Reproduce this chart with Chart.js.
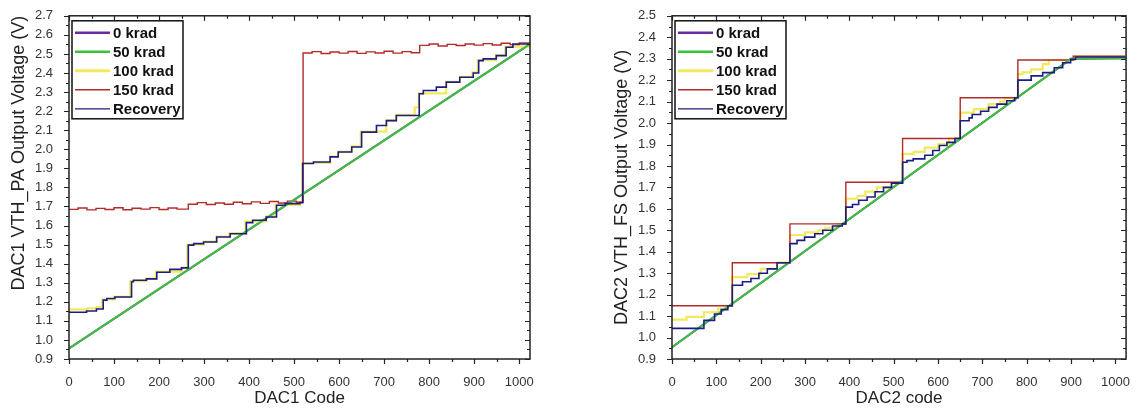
<!DOCTYPE html>
<html>
<head>
<meta charset="utf-8">
<script src="https://cdn.jsdelivr.net/npm/chart.js@4.4.1/dist/chart.umd.min.js"></script>
<style>
    html, body { margin: 0; padding: 0; background: #fff; }
    #wrap { position: relative; width: 1138px; height: 412px; overflow: hidden; }
    canvas { position: absolute; top: 0; }
    #chartPA { left: 0; }
    #chartFS { left: 603px; }
</style>
</head>
<body>
<div id="wrap">
    <canvas id="chartPA" width="560" height="412"></canvas>
    <canvas id="chartFS" width="535" height="412"></canvas>
</div>
<script>
// ========== 数据 ==========

const seriesNames = ['0 krad', '50 krad', '100 krad', '150 krad', 'Recovery'];

// DAC1 VTH_PA
const pa0kX = [0, 1023];
const pa0kY = [0.955, 2.55];
const pa50kX = [0, 1023];
const pa50kY = [0.955, 2.55];
const pa100kX = [0, 40, 62, 74, 100, 136, 172, 193, 250, 263, 299, 328, 356, 392, 438, 459, 513, 519, 580, 598, 628, 648, 705, 727, 768, 777, 838, 868, 896, 908, 949, 969, 1023];
const pa100kY = [1.16, 1.165, 1.172, 1.212, 1.226, 1.308, 1.322, 1.358, 1.38, 1.50, 1.516, 1.542, 1.56, 1.62, 1.648, 1.708, 1.722, 1.928, 1.962, 1.988, 2.015, 2.093, 2.152, 2.18, 2.22, 2.293, 2.354, 2.38, 2.403, 2.468, 2.494, 2.538, 2.555];
const pa150kX = [0, 20, 40, 60, 80, 100, 120, 140, 160, 180, 200, 220, 240, 265, 285, 305, 325, 345, 365, 385, 405, 425, 445, 465, 485, 505, 520, 540, 560, 580, 600, 620, 640, 660, 680, 700, 720, 740, 760, 779, 800, 820, 840, 860, 880, 900, 920, 940, 960, 980, 1000, 1023];
const pa150kY = [1.685, 1.692, 1.682, 1.690, 1.684, 1.693, 1.683, 1.691, 1.686, 1.694, 1.684, 1.692, 1.686, 1.712, 1.720, 1.710, 1.718, 1.712, 1.722, 1.714, 1.724, 1.716, 1.726, 1.718, 1.728, 1.722, 2.505, 2.512, 2.502, 2.510, 2.504, 2.513, 2.503, 2.511, 2.505, 2.514, 2.504, 2.512, 2.506, 2.545, 2.552, 2.542, 2.550, 2.544, 2.552, 2.546, 2.554, 2.547, 2.556, 2.549, 2.558, 2.555];
const paRecX = [0, 39, 61, 76, 84, 102, 139, 143, 172, 195, 224, 250, 265, 277, 299, 328, 358, 394, 408, 438, 461, 480, 513, 519, 543, 580, 598, 628, 650, 683, 705, 727, 778, 787, 816, 838, 868, 898, 910, 920, 949, 971, 986, 1023];
const paRecY = [1.145, 1.152, 1.162, 1.209, 1.217, 1.225, 1.305, 1.313, 1.32, 1.355, 1.37, 1.378, 1.497, 1.505, 1.514, 1.54, 1.557, 1.615, 1.628, 1.645, 1.706, 1.715, 1.72, 1.925, 1.933, 1.96, 1.986, 2.012, 2.09, 2.125, 2.15, 2.177, 2.291, 2.308, 2.326, 2.352, 2.378, 2.40, 2.465, 2.474, 2.491, 2.535, 2.552, 2.552];

// DAC2 VTH_FS
const fs0kX = [0, 900, 1023];
const fs0kY = [0.955, 2.30, 2.302];
const fs50kX = [0, 900, 1023];
const fs50kY = [0.955, 2.30, 2.302];
const fs100kX = [0, 33, 72, 104, 120, 136, 170, 200, 237, 266, 300, 330, 346, 374, 392, 418, 436, 462, 495, 520, 545, 570, 600, 625, 650, 681, 714, 740, 751, 780, 790, 810, 836, 850, 905, 1023];
const fs100kY = [1.084, 1.096, 1.118, 1.135, 1.148, 1.282, 1.296, 1.32, 1.349, 1.478, 1.49, 1.50, 1.512, 1.530, 1.647, 1.66, 1.68, 1.70, 1.724, 1.856, 1.866, 1.885, 1.902, 1.928, 2.049, 2.065, 2.088, 2.10, 2.118, 2.228, 2.236, 2.25, 2.275, 2.294, 2.31, 2.31];
const fs150kX = [0, 136, 266, 392, 520, 650, 780, 905, 1023];
const fs150kY = [1.148, 1.349, 1.530, 1.724, 1.928, 2.118, 2.294, 2.312, 2.312];
const fsRecX = [0, 72, 96, 111, 126, 136, 159, 178, 196, 215, 237, 266, 282, 299, 322, 340, 362, 384, 392, 407, 421, 440, 458, 477, 495, 520, 530, 544, 570, 588, 603, 620, 638, 650, 670, 677, 696, 714, 733, 755, 773, 780, 810, 836, 862, 881, 899, 910, 1023];
const fsRecY = [1.043, 1.08, 1.11, 1.13, 1.148, 1.244, 1.26, 1.275, 1.30, 1.32, 1.349, 1.438, 1.453, 1.468, 1.484, 1.50, 1.52, 1.530, 1.608, 1.62, 1.64, 1.655, 1.68, 1.70, 1.72, 1.817, 1.825, 1.833, 1.85, 1.872, 1.895, 1.91, 1.928, 2.011, 2.024, 2.04, 2.055, 2.073, 2.088, 2.104, 2.118, 2.20, 2.22, 2.235, 2.258, 2.281, 2.297, 2.308, 2.308];

// ========== 样式 ==========

const COLORS = {
    k0: '#6a2c9c',
    k50: '#3cc13c',
    k100: '#f2ea5c',
    k150: '#b22a2a',
    rec: '#1c1c86'
};

const FONT = 'Arial, "Liberation Sans", sans-serif';

function zip(xs, ys) {
    return xs.map((x, i) => ({ x: x, y: ys[i] }));
}

// frame + mirrored major/minor ticks
const framePlugin = {
    id: 'frame',
    afterDatasetsDraw(chart) {
        const { ctx, chartArea: a, scales: { x, y } } = chart;
        ctx.save();
        ctx.strokeStyle = '#222';
        ctx.lineWidth = 1.5;
        ctx.strokeRect(a.left, a.top, a.right - a.left, a.bottom - a.top);
        ctx.lineWidth = 1.2;
        ctx.beginPath();
        for (let v = 0; v <= x.max; v += 50) {
            const px = Math.round(x.getPixelForValue(v)) + 0.5;
            const len = v % 100 === 0 ? 5 : 3;
            ctx.moveTo(px, a.bottom); ctx.lineTo(px, a.bottom + len);
            ctx.moveTo(px, a.top); ctx.lineTo(px, a.top + len);
        }
        const n = Math.round((y.max - y.min) / 0.05);
        for (let k = 0; k <= n; k++) {
            const py = Math.round(y.getPixelForValue(y.min + k * 0.05)) + 0.5;
            const len = k % 2 === 0 ? 5 : 3;
            ctx.moveTo(a.left, py); ctx.lineTo(a.left - len, py);
            ctx.moveTo(a.right, py); ctx.lineTo(a.right - len, py);
        }
        ctx.stroke();
        ctx.restore();
    }
};

// boxed legend inside the plot, top left
const boxLegend = {
    id: 'boxLegend',
    afterDraw(chart) {
        const { ctx, chartArea: a } = chart;
        const left = a.left + 3, top = a.top + 5, w = 111, h = 98;
        ctx.save();
        ctx.fillStyle = '#fff';
        ctx.fillRect(left, top, w, h);
        ctx.strokeStyle = '#111';
        ctx.lineWidth = 1.5;
        ctx.strokeRect(left, top, w, h);
        ctx.font = 'bold 15px ' + FONT;
        ctx.textBaseline = 'middle';
        chart.data.datasets.forEach((ds, i) => {
            const yy = top + 12 + i * 19;
            ctx.strokeStyle = ds.borderColor;
            ctx.lineWidth = ds.legendWidth;
            ctx.beginPath();
            ctx.moveTo(left + 3, yy);
            ctx.lineTo(left + 38, yy);
            ctx.stroke();
            ctx.fillStyle = '#111';
            ctx.fillText(ds.label, left + 41, yy + 1);
        });
        ctx.restore();
    }
};

function buildDatasets(s) {
    return [
        { label: seriesNames[0], data: zip(s[0][0], s[0][1]), borderColor: COLORS.k0, borderWidth: 2, legendWidth: 2.5, order: 4 },
        { label: seriesNames[1], data: zip(s[1][0], s[1][1]), borderColor: COLORS.k50, borderWidth: 2, legendWidth: 2.5, order: 1 },
        { label: seriesNames[2], data: zip(s[2][0], s[2][1]), borderColor: COLORS.k100, borderWidth: 2.2, legendWidth: 3, stepped: true, order: 3 },
        { label: seriesNames[3], data: zip(s[3][0], s[3][1]), borderColor: COLORS.k150, borderWidth: 1.4, legendWidth: 1.5, stepped: true, order: 2 },
        { label: seriesNames[4], data: zip(s[4][0], s[4][1]), borderColor: COLORS.rec, borderWidth: 1.6, legendWidth: 1.2, stepped: true, order: 0 }
    ];
}

function makeChart(id, cfg) {
    return new Chart(document.getElementById(id), {
        type: 'line',
        data: { datasets: buildDatasets(cfg.series) },
        options: {
            responsive: false,
            animation: false,
            devicePixelRatio: 1,
            layout: { padding: cfg.padding },
            elements: { point: { radius: 0 }, line: { tension: 0 } },
            plugins: {
                legend: { display: false },
                tooltip: { enabled: false }
            },
            scales: {
                x: {
                    type: 'linear',
                    min: 0,
                    max: 1024,
                    afterFit: s => { s.height = 53; },
                    grid: { display: false },
                    border: { display: false },
                    ticks: {
                        stepSize: 100,
                        includeBounds: false,
                        autoSkip: false,
                        maxRotation: 0,
                        padding: 8,
                        color: '#333',
                        font: { family: FONT, size: 13 },
                        callback: v => String(v)
                    },
                    title: {
                        display: true,
                        text: cfg.xTitle,
                        color: '#222',
                        font: { family: FONT, size: 17 },
                        padding: { top: 0, bottom: 3 }
                    }
                },
                y: {
                    type: 'linear',
                    min: 0.9,
                    max: cfg.yMax,
                    afterFit: s => { s.width = 69; },
                    grid: { display: false },
                    border: { display: false },
                    ticks: {
                        stepSize: 0.1,
                        autoSkip: false,
                        padding: 8,
                        color: '#333',
                        font: { family: FONT, size: 13 },
                        callback: v => v.toFixed(1)
                    },
                    title: {
                        display: true,
                        text: cfg.yTitle,
                        align: cfg.yAlign,
                        color: '#222',
                        font: { family: FONT, size: 18 },
                        padding: { top: 8, bottom: 0 }
                    }
                }
            }
        },
        plugins: [framePlugin, boxLegend]
    });
}

makeChart('chartPA', {
    series: [[pa0kX, pa0kY], [pa50kX, pa50kY], [pa100kX, pa100kY], [pa150kX, pa150kY], [paRecX, paRecY]],
    xTitle: 'DAC1 Code',
    yTitle: 'DAC1 VTH_PA Output Voltage (V)',
    yMax: 2.7,
    yAlign: 'end',
    padding: { top: 15, right: 30, left: 0, bottom: 0 }
});

makeChart('chartFS', {
    series: [[fs0kX, fs0kY], [fs50kX, fs50kY], [fs100kX, fs100kY], [fs150kX, fs150kY], [fsRecX, fsRecY]],
    xTitle: 'DAC2 code',
    yTitle: 'DAC2 VTH_FS Output Voltage (V)',
    yMax: 2.5,
    yAlign: 'center',
    padding: { top: 15, right: 5, left: 0, bottom: 0 }
});
</script>
</body>
</html>
